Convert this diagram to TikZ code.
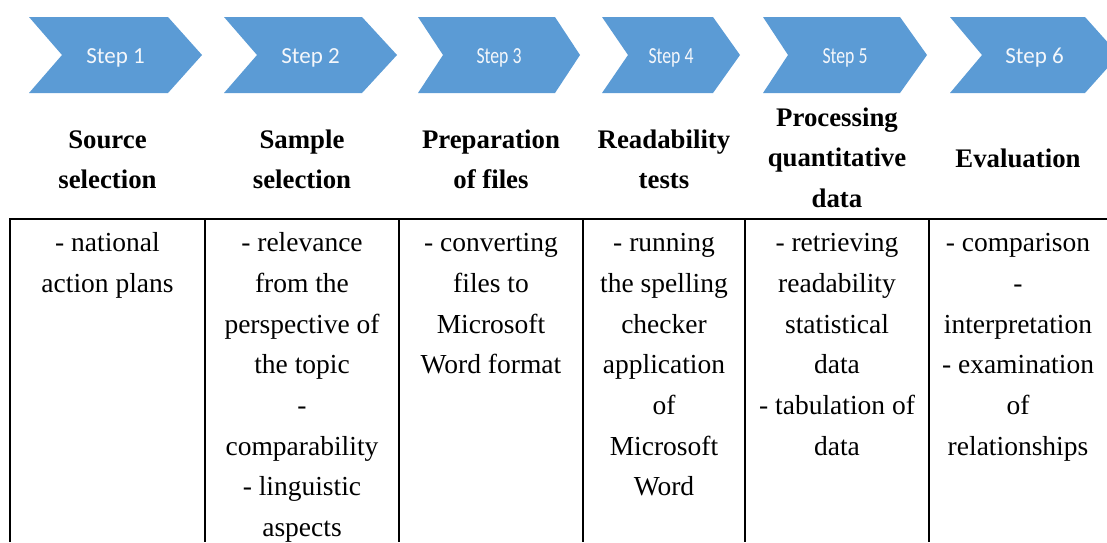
\documentclass[tikz,border=0pt]{standalone}
\usepackage{fontspec}
\setmainfont{Liberation Serif}
\newfontfamily\stepfont{Carlito}
\definecolor{stepblue}{HTML}{5B9BD5}
\definecolor{steptext}{HTML}{F4F7FB}
\begin{document}
\begin{tikzpicture}[x=1pt,y=-1pt,
  chev/.style={fill=stepblue,draw=none},
  steplabel/.style={text=steptext,font=\stepfont\fontsize{23}{23}\selectfont,inner sep=0pt,anchor=base},
  head/.style={font=\rmfamily\bfseries\fontsize{26.8}{40.7}\selectfont,align=center,anchor=north,inner sep=0pt},
  cell/.style={font=\rmfamily\fontsize{27.5}{40.7}\selectfont,align=center,anchor=north,inner sep=0pt},
  gridline/.style={line width=2.4pt,black}]
\useasboundingbox (0,0) rectangle (1107,542);

% process chevrons: number / left / notch depth / flat end / tip / label squeeze
\foreach \n/\l/\d/\f/\t/\s in {1/29/33/168/202/1, 2/224/33/362/397/1, 3/418/25/555/580/0.77,
                                4/602/26/713/740/0.77, 5/763/25/900/927/0.77, 6/950/32/1085/1119/1}{
  \fill[chev] (\l,17) -- (\f,17) -- (\t,55) -- (\f,93) -- (\l,93) -- (\l+\d,55) -- cycle;
  \node[steplabel] (step\n) at ({(\l+\t)/2},63) {\scalebox{\s}[1]{Step \n}};
}

% column headings
\newcommand\tl{\rule{0pt}{20pt}}
\node[head] (h1) at (107.5,128) {\tl Source\\selection};
\node[head] (h2) at (302,128) {\tl Sample\\selection};
\node[head] (h3) at (491,128) {\tl Preparation\\of files};
\node[head] (h4) at (664,128) {\tl Readability\\tests};
\node[head] (h5) at (837,106) {\tl Processing\\quantitative\\data};
\node[head] (h6) at (1018,147) {\tl Evaluation};

% table rules
\draw[gridline] (10,542) -- (10,219) -- (1107,219);
\foreach \x in {205,399,583,745,929}{
  \draw[gridline] (\x,219) -- (\x,542);
}

% cell contents
\node[cell] (c1) at (107.5,231.5) {\tl - national\\action plans};
\node[cell] (c2) at (302,231.5) {\tl - relevance\\from the\\perspective of\\the topic\\-\\comparability\\- linguistic\\aspects};
\node[cell] (c3) at (491,231.5) {\tl - converting\\files to\\Microsoft\\Word format};
\node[cell] (c4) at (664,231.5) {\tl - running\\the spelling\\checker\\application\\of\\Microsoft\\Word};
\node[cell] (c5) at (837,231.5) {\tl - retrieving\\readability\\statistical\\data\\- tabulation of\\data};
\node[cell] (c6) at (1018,231.5) {\tl - comparison\\-\\interpretation\\- examination\\of\\relationships};
\end{tikzpicture}
\end{document}
